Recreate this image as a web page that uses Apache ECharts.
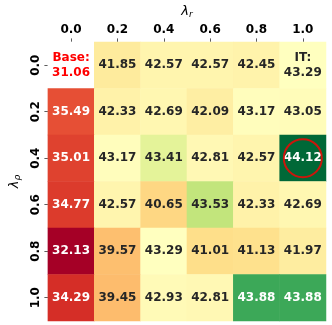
<!DOCTYPE html>
<html>
<head>
<meta charset="utf-8">
<script src="https://cdn.jsdelivr.net/npm/echarts@6/dist/echarts.min.js"></script>
<style>
  html, body { margin: 0; padding: 0; background: #fff; }
  #chart { width: 332px; height: 325px; }
</style>
</head>
<body>
<div id="chart"></div>
<script>
// tick labels
const lambdaR = ['0.0', '0.2', '0.4', '0.6', '0.8', '1.0'];
const lambdaRho = ['0.0', '0.2', '0.4', '0.6', '0.8', '1.0'];

// rows = lambda_rho, cols = lambda_r
const row00 = [31.06, 41.85, 42.57, 42.57, 42.45, 43.29];
const row02 = [35.49, 42.33, 42.69, 42.09, 43.17, 43.05];
const row04 = [35.01, 43.17, 43.41, 42.81, 42.57, 44.12];
const row06 = [34.77, 42.57, 40.65, 43.53, 42.33, 42.69];
const row08 = [32.13, 39.57, 43.29, 41.01, 41.13, 41.97];
const row10 = [34.29, 39.45, 42.93, 42.81, 43.88, 43.88];
const rows = [row00, row02, row04, row06, row08, row10];

const baseValue = 31.06;   // cell (0,0) is masked, shown as "Base"
const itValue = 43.29;     // cell (0, 1.0), also the colour centre

// RdYlGn
const rdylgn = ['#a50026', '#d73027', '#f46d43', '#fdae61', '#fee08b', '#ffffbf',
                '#d9ef8b', '#a6d96a', '#66bd63', '#1a9850', '#006837'];

function hex2rgb(h) {
  return [parseInt(h.slice(1, 3), 16), parseInt(h.slice(3, 5), 16), parseInt(h.slice(5, 7), 16)];
}

function cmap(t) {
  t = Math.max(0, Math.min(1, t));
  const p = t * (rdylgn.length - 1);
  const i = Math.min(Math.floor(p), rdylgn.length - 2);
  const f = p - i;
  const a = hex2rgb(rdylgn[i]), b = hex2rgb(rdylgn[i + 1]);
  return a.map((v, k) => Math.round(v + (b[k] - v) * f));
}

// collect values except base for the norm
const vals = [];
rows.forEach((r, i) => r.forEach((v, j) => { if (!(i === 0 && j === 0)) vals.push(v); }));
const vmin = Math.min(...vals);
const vmax = Math.max(...vals);

// two slope norm centred on IT
function norm(v) {
  if (v <= itValue) return 0.5 * (v - vmin) / (itValue - vmin);
  return 0.5 + 0.5 * (v - itValue) / (vmax - itValue);
}

function lum(rgb) {
  const c = rgb.map(x => {
    x = x / 255;
    return x <= 0.03928 ? x / 12.92 : Math.pow((x + 0.055) / 1.055, 2.4);
  });
  return 0.2126 * c[0] + 0.7152 * c[1] + 0.0722 * c[2];
}

const heatData = [];
let best = null;
rows.forEach((r, i) => {
  r.forEach((v, j) => {
    if (i === 0 && j === 0) {
      heatData.push({
        value: [j, i, v],
        itemStyle: { color: '#ffffff' },
        label: { color: '#ff0000', formatter: 'Base:\n' + v.toFixed(2) }
      });
      return;
    }
    const rgb = cmap(norm(v));
    const isIT = (i === 0 && j === r.length - 1);
    heatData.push({
      value: [j, i, v],
      itemStyle: { color: 'rgb(' + rgb.join(',') + ')' },
      label: {
        color: lum(rgb) < 0.408 ? '#ffffff' : '#262626',
        formatter: isIT ? 'IT:\n' + v.toFixed(2) : v.toFixed(2)
      }
    });
    if (!best || v > best.v) best = { v: v, x: j, y: i };
  });
});

const chart = echarts.init(document.getElementById('chart'));

chart.setOption({
  animation: false,
  grid: {
    left: 38,
    right: 6,
    top: 33,
    bottom: 4
  },
  xAxis: {
    type: 'category',
    position: 'top',
    data: lambdaR,
    name: '{a|λ}{b|r}',
    nameLocation: 'middle',
    nameGap: 21,
    nameTextStyle: {
      rich: {
        a: { fontFamily: 'DejaVu Sans', fontStyle: 'italic', fontSize: 13, color: '#000' },
        b: { fontFamily: 'DejaVu Sans', fontStyle: 'italic', fontSize: 9, color: '#000', padding: [6, 0, 0, 0] }
      }
    },
    axisLine: { show: false },
    axisTick: { show: true, alignWithLabel: true, length: 3.5, lineStyle: { color: '#333', width: 0.8 } },
    axisLabel: { fontFamily: 'DejaVu Sans', fontWeight: 'bold', fontSize: 12, color: '#000', margin: 6 },
    splitLine: { show: false }
  },
  yAxis: {
    type: 'category',
    inverse: true,
    data: lambdaRho,
    name: '{a|λ}{b|ρ}',
    nameLocation: 'middle',
    nameGap: 24,
    nameTextStyle: {
      rich: {
        a: { fontFamily: 'DejaVu Sans', fontStyle: 'italic', fontSize: 13, color: '#000' },
        b: { fontFamily: 'DejaVu Sans', fontStyle: 'italic', fontSize: 9, color: '#000', padding: [6, 0, 0, 0] }
      }
    },
    axisLine: { show: false },
    axisTick: { show: true, alignWithLabel: true, length: 3.5, lineStyle: { color: '#333', width: 0.8 } },
    axisLabel: { fontFamily: 'DejaVu Sans', fontWeight: 'bold', fontSize: 12, color: '#000', margin: 6, rotate: 90 },
    splitLine: { show: false }
  },
  series: [{
    type: 'heatmap',
    data: heatData,
    itemStyle: { borderWidth: 0 },
    label: {
      show: true,
      fontFamily: 'DejaVu Sans',
      fontWeight: 'bold',
      fontSize: 12,
      lineHeight: 15
    }
  }, {
    // red ring on the best cell
    type: 'scatter',
    data: [[best.x, best.y]],
    symbol: 'circle',
    symbolSize: 38,
    z: 5,
    itemStyle: { color: 'rgba(0,0,0,0)', borderColor: '#ff0000', borderWidth: 2 },
    silent: true
  }]
});
</script>
</body>
</html>
